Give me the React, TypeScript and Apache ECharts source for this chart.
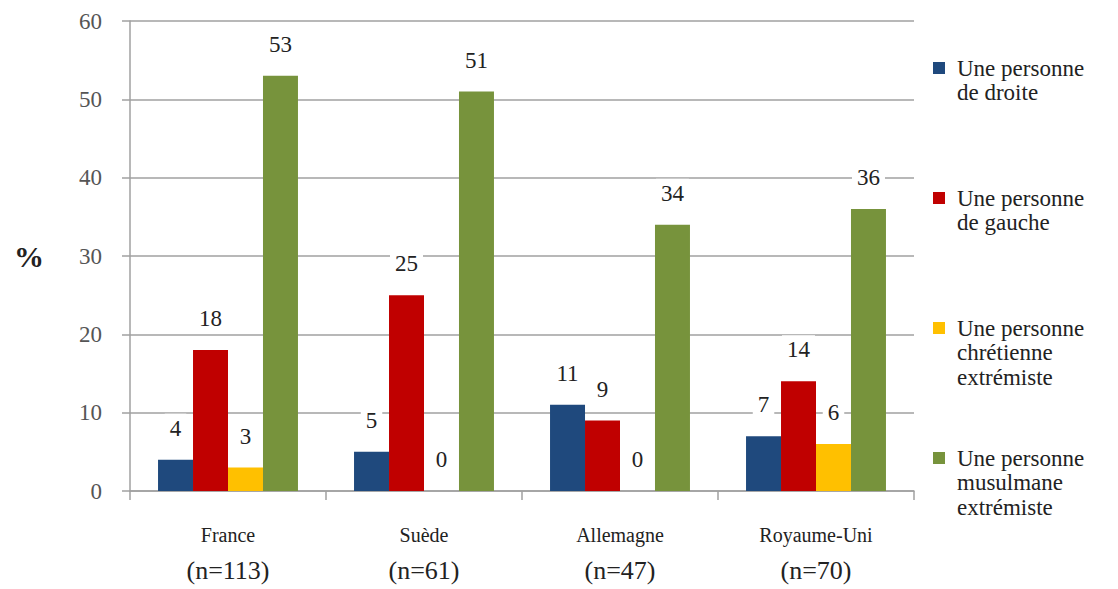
import React, { useEffect, useRef } from "react";
import * as echarts from "echarts";

const categories = ["France", "Suède", "Allemagne", "Royaume-Uni"];
const sampleSizes = ["(n=113)", "(n=61)", "(n=47)", "(n=70)"];
const seriesNames = [
  "Une personne de droite",
  "Une personne de gauche",
  "Une personne chrétienne extrémiste",
  "Une personne musulmane extrémiste",
];
const legendLines = [
  ["Une personne", "de droite"],
  ["Une personne", "de gauche"],
  ["Une personne", "chrétienne", "extrémiste"],
  ["Une personne", "musulmane", "extrémiste"],
];
const droite = [4, 5, 11, 7];
const gauche = [18, 25, 9, 14];
const chretienne = [3, 0, 0, 6];
const musulmane = [53, 51, 34, 36];
const seriesValues = [droite, gauche, chretienne, musulmane];
const colors = ["#1F497D", "#C00000", "#FFC000", "#77933C"];
const yTicks = { min: 0, max: 60, interval: 10 };

const FONT = "Liberation Serif";

function buildOption() {
  const legendTops = [56, 186, 316, 446];
  const graphic: any[] = [];
  seriesNames.forEach((_, i) => {
    graphic.push({
      type: "rect",
      left: 933,
      top: legendTops[i] + 6,
      shape: { width: 12, height: 12 },
      style: { fill: colors[i] },
    });
    graphic.push({
      type: "text",
      left: 957,
      top: legendTops[i],
      style: {
        text: legendLines[i].join("\n"),
        fontSize: 23,
        fontFamily: FONT,
        lineHeight: 24.5,
        fill: "#222",
      },
    });
  });
  graphic.push({
    type: "text",
    left: 14,
    top: 241,
    style: { text: "%", fontSize: 30, fontWeight: "bold", fontFamily: FONT, fill: "#222" },
  });
  return {
    animation: false,
    grid: { left: 130, right: 204, top: 21, bottom: 98, containLabel: false },
    xAxis: {
      type: "category",
      data: categories,
      axisLine: { lineStyle: { color: "#A0A0A0", width: 1.5 } },
      axisTick: { show: true, length: 9, lineStyle: { color: "#A0A0A0", width: 1.5 } },
      axisLabel: {
        margin: 27,
        fontFamily: FONT,
        formatter: (v: string, idx: number) => `{a|${v}}\n{b|${sampleSizes[idx]}}`,
        rich: {
          a: { fontSize: 20, fontFamily: FONT, color: "#222", lineHeight: 34 },
          b: { fontSize: 26, fontFamily: FONT, color: "#222", lineHeight: 36 },
        },
      },
    },
    yAxis: {
      type: "value",
      min: yTicks.min,
      max: yTicks.max,
      interval: yTicks.interval,
      axisLine: { show: true, lineStyle: { color: "#A0A0A0", width: 1.5 } },
      axisTick: { show: true, length: 8, lineStyle: { color: "#A0A0A0", width: 1.5 } },
      axisLabel: { margin: 28, fontSize: 23, fontFamily: FONT, color: "#555" },
      splitLine: { lineStyle: { color: "#A0A0A0", width: 1.5 } },
    },
    series: seriesNames.map((name, i) => ({
      name,
      type: "bar",
      data: seriesValues[i],
      barGap: "0%",
      barCategoryGap: "28.6%",
      itemStyle: { color: colors[i] },
      label: {
        show: true,
        position: "top",
        distance: 17,
        fontSize: 23,
        fontFamily: FONT,
        color: "#222",
        backgroundColor: "#fff",
        padding: [3, 5],
      },
    })),
    graphic,
  };
}

export default function App() {
  const ref = useRef<HTMLDivElement>(null);
  useEffect(() => {
    if (!ref.current) return;
    document.body.style.margin = "0";
    const chart = echarts.init(ref.current, null, { renderer: "svg" });
    chart.setOption(buildOption());
    return () => {
      chart.dispose();
    };
  }, []);
  return (
    <div style={{ fontFamily: FONT, position: "relative" }}>
      <div ref={ref} style={{ width: 1118, height: 589, background: "#fff" }} />
      <span style={{ position: "absolute", left: 0, top: 0, fontFamily: FONT, fontSize: 10 }}>{"\u00a0"}</span>
    </div>
  );
}
